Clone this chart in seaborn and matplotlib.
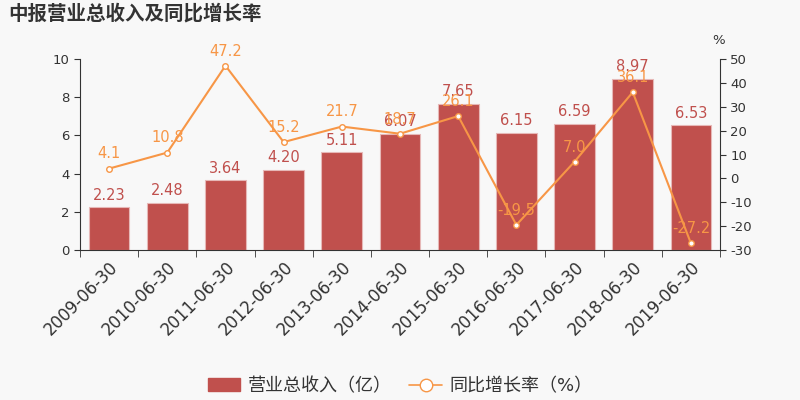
import numpy as np
import pandas as pd
import matplotlib
matplotlib.use('Agg')
import matplotlib.pyplot as plt
import seaborn as sns
from matplotlib.lines import Line2D
from matplotlib.patches import Patch

sns.set_style('white')
plt.rcParams['font.family'] = ['DejaVu Sans', 'Noto Sans CJK SC']
plt.rcParams['axes.unicode_minus'] = False

# 数据
dates = ['2009-06-30', '2010-06-30', '2011-06-30', '2012-06-30', '2013-06-30',
         '2014-06-30', '2015-06-30', '2016-06-30', '2017-06-30', '2018-06-30',
         '2019-06-30']
revenue = [2.23, 2.48, 3.64, 4.20, 5.11, 6.07, 7.65, 6.15, 6.59, 8.97, 6.53]
growth = [4.1, 10.8, 47.2, 15.2, 21.7, 18.7, 26.1, -19.5, 7.0, 36.1, -27.2]

bar_color = '#c0504d'
line_color = '#f79646'
bg = '#f8f8f8'
text_color = '#333333'

df = pd.DataFrame({'date': dates, 'revenue': revenue, 'growth': growth})
df['pos'] = np.arange(len(df))

fig = plt.figure(figsize=(8, 4), dpi=100, facecolor=bg)
ax = fig.add_axes([0.1, 0.375, 0.8, 0.4775])
ax.set_facecolor(bg)

sns.barplot(data=df, x='date', y='revenue', color=bar_color, width=0.7,
            saturation=1, edgecolor='#e6b8b7', linewidth=0.8, ax=ax)
ax.set_xlim(-0.5, len(df) - 0.5)
ax.set_ylim(0, 10)
ax.set_yticks(range(0, 11, 2))
for i, v in enumerate(revenue):
    ax.text(i, v + 0.25, f'{v:.2f}', ha='center', va='bottom', color=bar_color, fontsize=10.5)

ax2 = ax.twinx()
sns.lineplot(data=df, x='pos', y='growth', color=line_color, linewidth=1.5,
             marker='o', markersize=4, markerfacecolor='white',
             markeredgecolor=line_color, markeredgewidth=1, ax=ax2)
ax2.set_ylim(-30, 50)
ax2.set_yticks(range(-30, 51, 10))
for i, v in enumerate(growth):
    ax2.text(i, v + 3, f'{v:.1f}', ha='center', va='bottom', color=line_color, fontsize=10.5)

ax.set_xlabel('')
ax.set_ylabel('')
ax2.set_xlabel('')
ax2.set_ylabel('')

# 坐标轴样式
for a in (ax, ax2):
    a.spines['top'].set_visible(False)
    a.spines['left'].set_color(text_color)
    a.spines['right'].set_color(text_color)
    a.spines['bottom'].set_color(text_color)
ax.spines['right'].set_visible(False)
ax2.spines['left'].set_visible(False)
ax2.spines['bottom'].set_visible(False)

ax.tick_params(axis='y', colors=text_color, labelsize=9.5, length=4, direction='out', left=True)
ax2.tick_params(axis='y', colors=text_color, labelsize=9.5, length=4, direction='out', right=True)

ax.set_xticks(range(len(dates)))
ax.set_xticklabels(dates, rotation=45, ha='right', rotation_mode='anchor', fontsize=12, color=text_color)
ax.tick_params(axis='x', which='major', length=0, pad=6)
ax.set_xticks(np.arange(-0.5, len(dates), 1), minor=True)
ax.tick_params(axis='x', which='minor', length=5, color=text_color, bottom=True)

fig.text(0.01, 0.965, '中报营业总收入及同比增长率', fontsize=14, fontweight='bold',
         color=text_color, va='center', ha='left', family=['Noto Sans CJK SC'])
fig.text(0.898, 0.9, '%', fontsize=9.5, color=text_color, ha='center', va='center')

handles = [Patch(facecolor=bar_color, edgecolor=bar_color, label='营业总收入（亿）'),
           Line2D([0], [0], color=line_color, marker='o', markersize=9,
                  markerfacecolor='white', markeredgecolor=line_color, linewidth=1.2,
                  label='同比增长率（%）')]
fig.legend(handles=handles, loc='center', bbox_to_anchor=(0.5, 0.035), ncol=2,
           frameon=False, fontsize=13, handlelength=1.8, columnspacing=1.0,
           handletextpad=0.4, labelcolor=text_color)

fig.savefig('out.png', dpi=100, facecolor=bg)
